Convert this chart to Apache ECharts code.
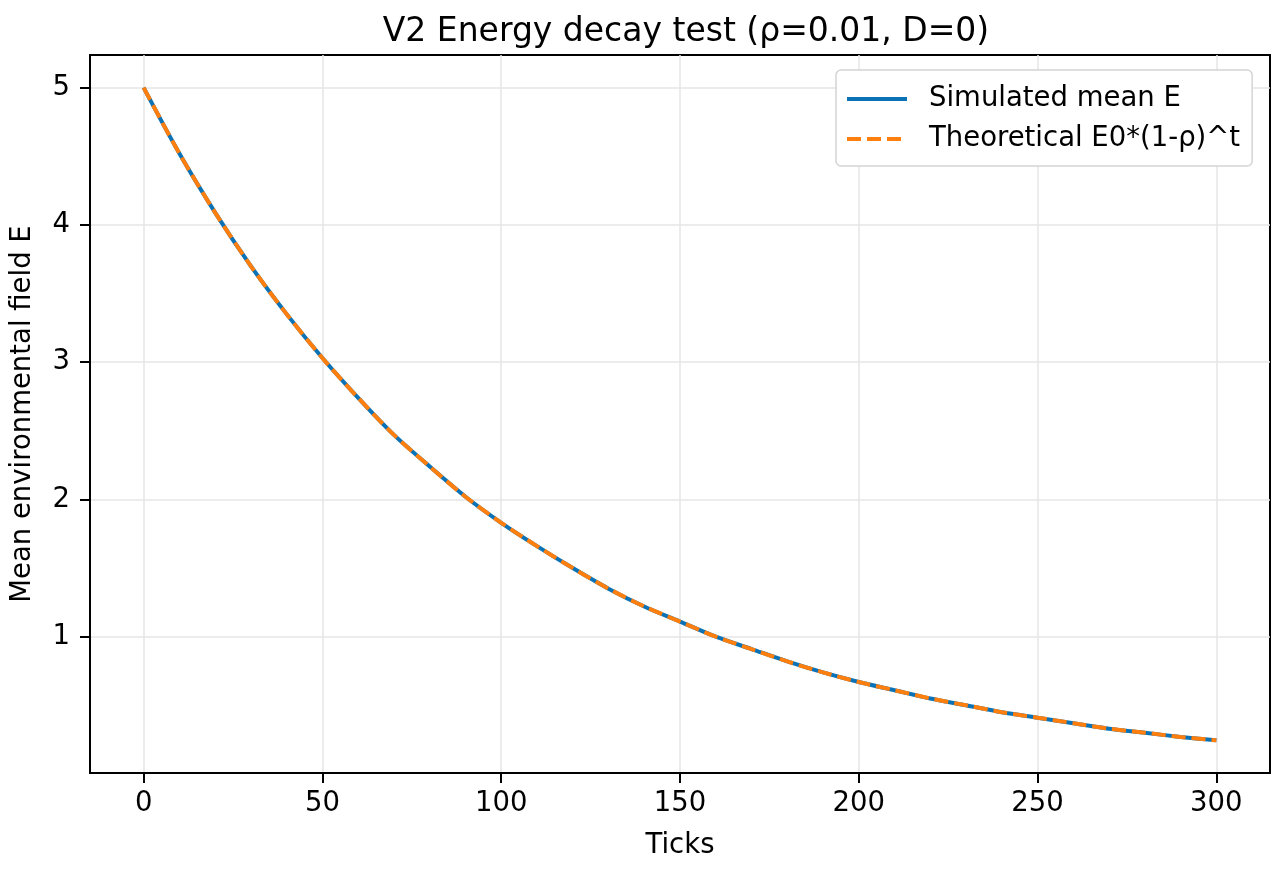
<!DOCTYPE html>
<html>
<head>
<meta charset="utf-8">
<script src="https://cdn.jsdelivr.net/npm/echarts@6/dist/echarts.min.js"></script>
<style>
  html, body { margin: 0; padding: 0; background: #fff; }
  #chart { width: 1280px; height: 871px; }
</style>
</head>
<body>
<div id="chart"></div>
<script>
// values, every 10 ticks
const ticks = [0, 10, 20, 30, 40, 50, 60, 70, 80, 90, 100, 110, 120, 130, 140, 150,
  160, 170, 180, 190, 200, 210, 220, 230, 240, 250, 260, 270, 280, 290, 300];
const simulatedE = [5.00, 4.52, 4.09, 3.70, 3.35, 3.03, 2.74, 2.47, 2.24, 2.02, 1.83,
  1.66, 1.50, 1.35, 1.22, 1.11, 1.00, 0.91, 0.82, 0.74, 0.67, 0.61, 0.55, 0.50,
  0.45, 0.41, 0.37, 0.33, 0.30, 0.27, 0.245];
const theoreticalE = [5.00, 4.52, 4.09, 3.70, 3.35, 3.03, 2.74, 2.47, 2.24, 2.02, 1.83,
  1.66, 1.50, 1.35, 1.22, 1.11, 1.00, 0.91, 0.82, 0.74, 0.67, 0.61, 0.55, 0.50,
  0.45, 0.41, 0.37, 0.33, 0.30, 0.27, 0.245];
const xTickLabels = [0, 50, 100, 150, 200, 250, 300];
const yTickLabels = [1, 2, 3, 4, 5];

const font = 'DejaVu Sans';
const fs = 27.5;
const chart = echarts.init(document.getElementById('chart'));

const option = {
  backgroundColor: '#fff',
  animation: false,
  title: {
    text: 'V2 Energy decay test (ρ=0.01, D=0)',
    left: 681,
    textAlign: 'center',
    top: 11,
    textStyle: { fontFamily: font, fontSize: 33, fontWeight: 'normal', color: '#000' }
  },
  legend: {
    orient: 'vertical',
    left: 836,
    top: 70,
    padding: [15, 12, 13, 9],
    itemGap: 12,
    itemWidth: 60,
    itemHeight: 27,
    backgroundColor: '#fff',
    borderColor: '#d4d4d4',
    borderWidth: 1.5,
    borderRadius: 5,
    itemStyle: { opacity: 0, borderWidth: 0 },
    lineStyle: { width: 4 },
    textStyle: { fontFamily: font, fontSize: fs, color: '#000', padding: [0, 0, 0, 17] },
    data: ['Simulated mean E', 'Theoretical E0*(1-ρ)^t']
  },
  grid: {
    left: 90, right: 10, top: 55, bottom: 98,
    show: true, borderColor: '#000', borderWidth: 2, backgroundColor: 'transparent'
  },
  xAxis: {
    type: 'value',
    min: -15,
    max: 315,
    name: 'Ticks',
    nameLocation: 'middle',
    nameGap: 59,
    nameTextStyle: { fontFamily: font, fontSize: fs, color: '#000' },
    axisLine: { show: true, onZero: false, lineStyle: { color: '#000', width: 2 } },
    axisTick: { show: true, length: 10, lineStyle: { color: '#000', width: 2 }, customValues: xTickLabels },
    axisLabel: { fontFamily: font, fontSize: fs, color: '#000', margin: 17, customValues: xTickLabels },
    splitLine: { show: true, lineStyle: { color: '#e6e6e6', width: 1.5 } }
  },
  yAxis: {
    type: 'value',
    min: 0.007,
    max: 5.238,
    name: 'Mean environmental field E',
    nameLocation: 'middle',
    nameGap: 53,
    nameTextStyle: { fontFamily: font, fontSize: fs, color: '#000' },
    axisLine: { show: true, onZero: false, lineStyle: { color: '#000', width: 2 } },
    axisTick: { show: true, length: 10, lineStyle: { color: '#000', width: 2 }, customValues: yTickLabels },
    axisLabel: { fontFamily: font, fontSize: fs, color: '#000', margin: 20, customValues: yTickLabels },
    splitLine: { show: true, lineStyle: { color: '#e6e6e6', width: 1.5 } }
  },
  series: [
    {
      name: 'Simulated mean E',
      type: 'line',
      symbol: 'none',
      smooth: 0.3,
      color: '#0b72b5',
      lineStyle: { color: '#0b72b5', width: 4 },
      data: ticks.map((t, i) => [t, simulatedE[i]])
    },
    {
      name: 'Theoretical E0*(1-ρ)^t',
      type: 'line',
      symbol: 'none',
      smooth: 0.3,
      color: '#ff7f0e',
      lineStyle: { color: '#ff7f0e', width: 4, type: [14, 6] },
      data: ticks.map((t, i) => [t, theoreticalE[i]])
    }
  ]
};

chart.setOption(option);
</script>
</body>
</html>
